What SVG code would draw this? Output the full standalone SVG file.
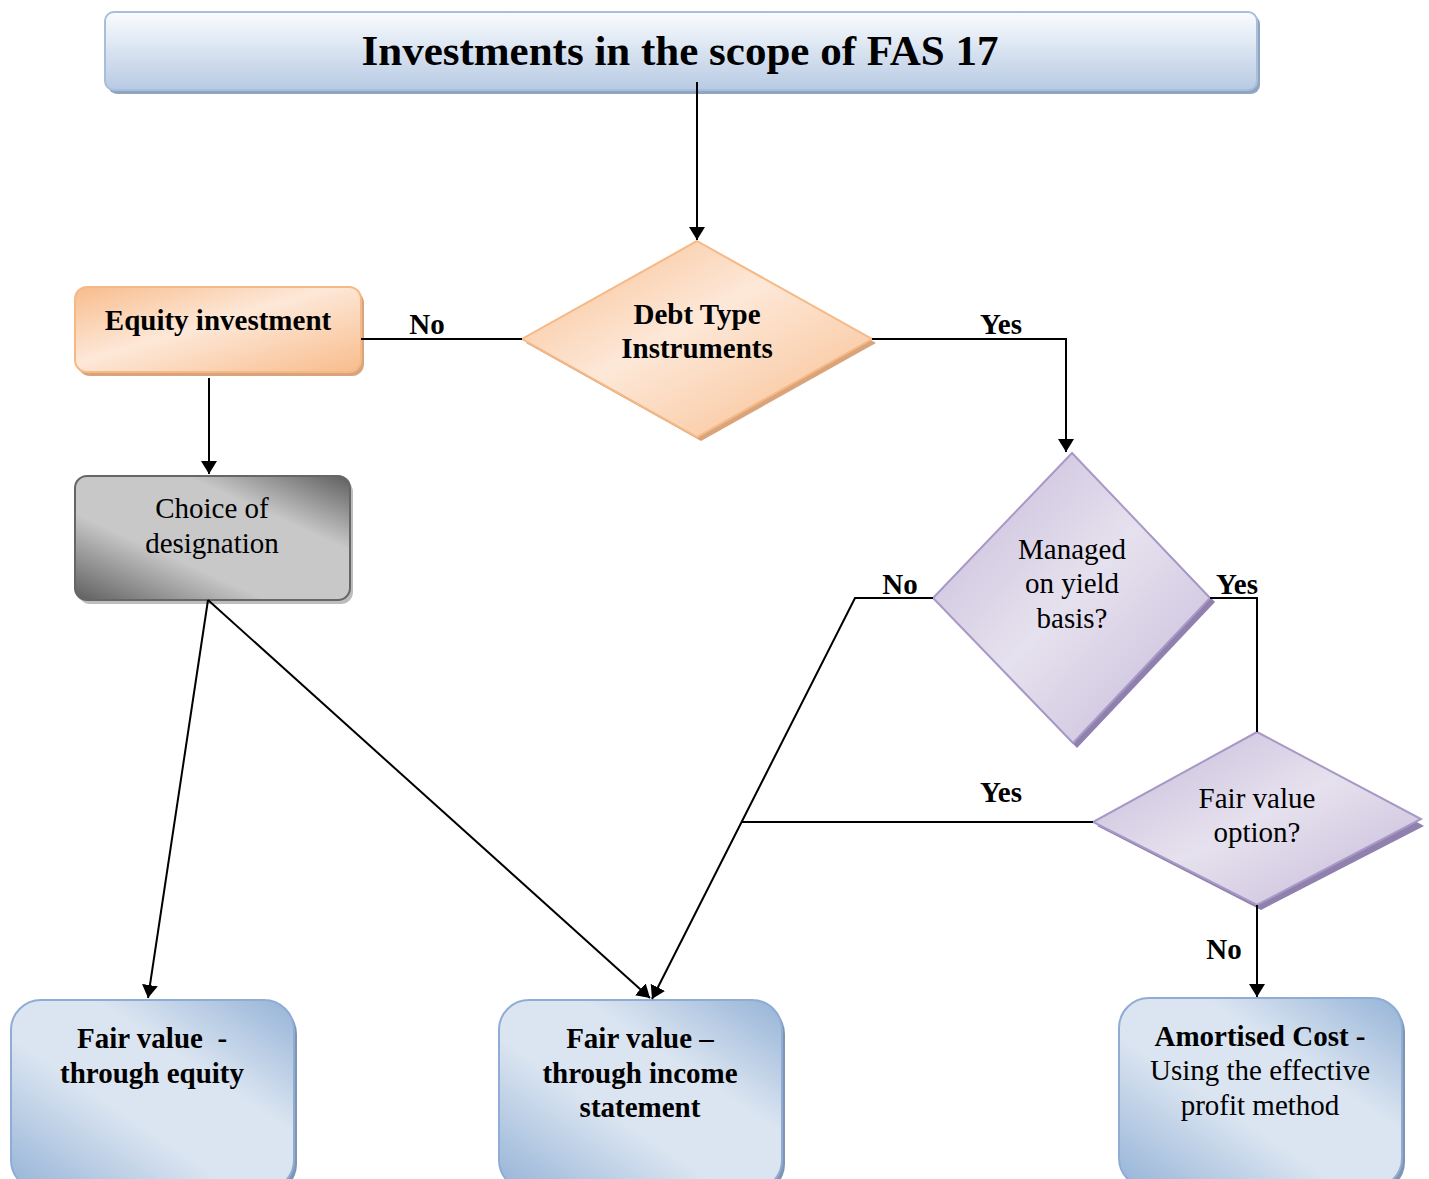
<svg xmlns="http://www.w3.org/2000/svg" width="1429" height="1179" viewBox="0 0 1429 1179">
<style>
.t{font-family:"Liberation Serif","Times New Roman",serif;font-size:29px;fill:#000;text-anchor:middle}
.b{font-weight:bold}
.c{stroke:#000;stroke-width:2;fill:none}
</style>
<defs>
<marker id="ah" viewBox="0 0 13 16" refX="13" refY="8" markerWidth="13" markerHeight="16" markerUnits="userSpaceOnUse" orient="auto">
<path d="M0,0 L13,8 L0,16 Z" fill="#000"/>
</marker>
<linearGradient id="gTitle" x1="0" y1="0" x2="0" y2="1">
<stop offset="0" stop-color="#fafcfe"/><stop offset="1" stop-color="#b7cae3"/>
</linearGradient>
<linearGradient id="gOr" x1="0" y1="0" x2="1" y2="1">
<stop offset="0" stop-color="#f8bc8c"/><stop offset="0.45" stop-color="#fde8d8"/><stop offset="1" stop-color="#f8bc8c"/>
</linearGradient>
<linearGradient id="gPu" x1="0" y1="0" x2="1" y2="1">
<stop offset="0" stop-color="#c4b8d8"/><stop offset="0.5" stop-color="#e6e1ee"/><stop offset="1" stop-color="#c4b8d8"/>
</linearGradient>
<linearGradient id="gGr" x1="0" y1="1" x2="1" y2="0">
<stop offset="0" stop-color="#5e5e5e"/><stop offset="0.35" stop-color="#c8c8c8"/><stop offset="0.7" stop-color="#c8c8c8"/><stop offset="1" stop-color="#5e5e5e"/>
</linearGradient>
<linearGradient id="gBl" x1="0" y1="1" x2="1" y2="0">
<stop offset="0" stop-color="#95b3d7"/><stop offset="0.4" stop-color="#dbe5f1"/><stop offset="0.65" stop-color="#dbe5f1"/><stop offset="1" stop-color="#95b3d7"/>
</linearGradient>
</defs>

<g id="title">
<rect x="108" y="15" width="1152" height="79" rx="9" fill="#8ea5c4"/>
<rect x="105" y="12" width="1152" height="78" rx="9" fill="url(#gTitle)" stroke="#a9bedb" stroke-width="2"/>
<text class="t b" x="680" y="65" style="font-size:43px">Investments in the scope of FAS 17</text>
</g>

<g id="debt">
<polygon points="701,245 876,343 701,441 526,343" fill="#d9a47c"/>
<polygon points="697,241 872,339 697,437 522,339" fill="url(#gOr)" stroke="#f5b985" stroke-width="2"/>
<text class="t b" x="697" y="324">Debt Type</text>
<text class="t b" x="697" y="358">Instruments</text>
</g>

<g id="equity">
<rect x="78" y="291" width="286" height="85" rx="12" fill="#d9a47c"/>
<rect x="75" y="287" width="286" height="85" rx="12" fill="url(#gOr)" stroke="#f5b985" stroke-width="2"/>
<text class="t b" x="218" y="330">Equity investment</text>
</g>

<g id="choice">
<rect x="78" y="480" width="275" height="124" rx="12" fill="#bdbdbd"/>
<rect x="75" y="476" width="275" height="124" rx="12" fill="url(#gGr)" stroke="#666" stroke-width="2"/>
<text class="t" x="212" y="518">Choice of</text>
<text class="t" x="212" y="553">designation</text>
</g>

<g id="managed">
<polygon points="1077,458 1215,602 1077,748 937,602" fill="#8f80ad"/>
<polygon points="1072,453 1210,598 1073,743 933,598" fill="url(#gPu)" stroke="#a898c6" stroke-width="2"/>
<text class="t" x="1072" y="559">Managed</text>
<text class="t" x="1072" y="593">on yield</text>
<text class="t" x="1072" y="628">basis?</text>
</g>

<g id="fairvalue">
<polygon points="1261,736 1424,826 1261,910 1097,826" fill="#8f80ad"/>
<polygon points="1257,732 1421,819 1257,905 1093,822" fill="url(#gPu)" stroke="#a898c6" stroke-width="2"/>
<text class="t" x="1257" y="808">Fair value</text>
<text class="t" x="1257" y="842">option?</text>
</g>

<g id="fv-equity">
<rect x="14" y="1004" width="283" height="190" rx="30" fill="#7f95b3"/>
<rect x="11" y="1000" width="283" height="190" rx="30" fill="url(#gBl)" stroke="#8fadd4" stroke-width="2"/>
<text class="t b" x="152" y="1048" xml:space="preserve">Fair value  -</text>
<text class="t b" x="152" y="1083">through equity</text>
</g>

<g id="fv-income">
<rect x="502" y="1004" width="283" height="190" rx="30" fill="#7f95b3"/>
<rect x="499" y="1000" width="283" height="190" rx="30" fill="url(#gBl)" stroke="#8fadd4" stroke-width="2"/>
<text class="t b" x="640" y="1048">Fair value –</text>
<text class="t b" x="640" y="1083">through income</text>
<text class="t b" x="640" y="1117">statement</text>
</g>

<g id="amortised">
<rect x="1122" y="1002" width="283" height="190" rx="30" fill="#7f95b3"/>
<rect x="1119" y="998" width="283" height="190" rx="30" fill="url(#gBl)" stroke="#8fadd4" stroke-width="2"/>
<text class="t b" x="1260" y="1046">Amortised Cost -</text>
<text class="t" x="1260" y="1080">Using the effective</text>
<text class="t" x="1260" y="1115">profit method</text>
</g>

<g id="connectors">
<line class="c" x1="697" y1="82" x2="697" y2="240" marker-end="url(#ah)"/>
<line class="c" x1="361" y1="339" x2="522" y2="339"/>
<polyline class="c" points="872,339 1066,339 1066,452" marker-end="url(#ah)"/>
<line class="c" x1="209" y1="378" x2="209" y2="474" marker-end="url(#ah)"/>
<polyline class="c" points="1210,598 1257,598 1257,732"/>
<polyline class="c" points="933,598 855,598 652,999" marker-end="url(#ah)"/>
<line class="c" x1="1093" y1="822" x2="742" y2="822"/>
<line class="c" x1="1257" y1="905" x2="1257" y2="997" marker-end="url(#ah)"/>
<line class="c" x1="208" y1="600" x2="148" y2="998" marker-end="url(#ah)"/>
<line class="c" x1="208" y1="600" x2="650" y2="998" marker-end="url(#ah)"/>
<text class="t b" x="427" y="334">No</text>
<text class="t b" x="1001" y="334">Yes</text>
<text class="t b" x="900" y="594">No</text>
<text class="t b" x="1237" y="594">Yes</text>
<text class="t b" x="1001" y="802">Yes</text>
<text class="t b" x="1224" y="959">No</text>
</g>
</svg>
